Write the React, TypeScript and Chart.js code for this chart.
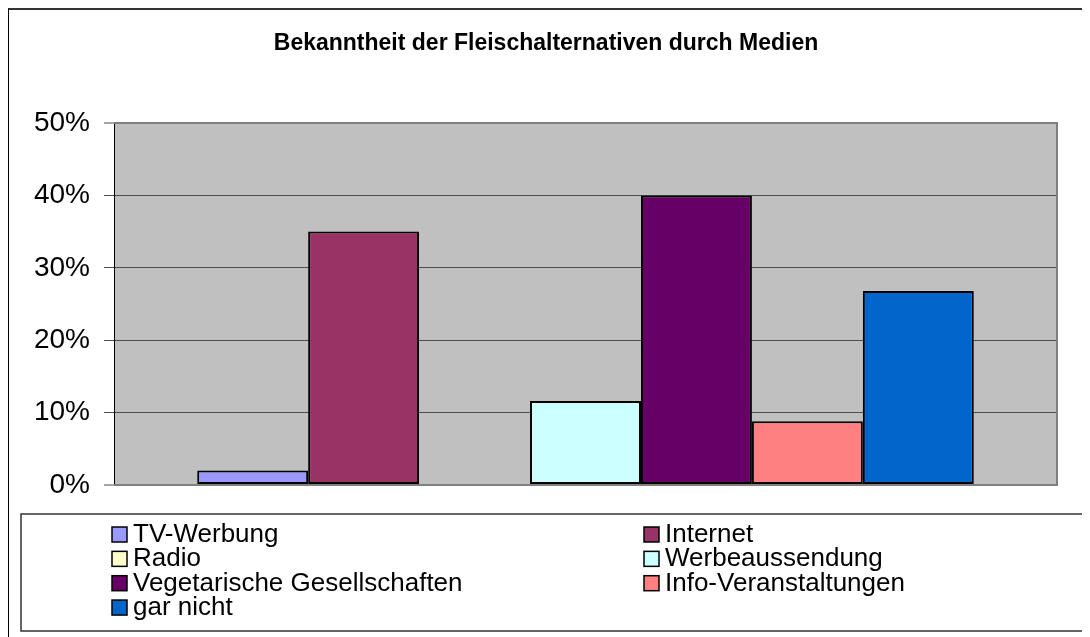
import { useEffect, useRef } from 'react';
import { Chart, registerables } from 'chart.js';

Chart.register(...registerables);

const titleText = 'Bekanntheit der Fleischalternativen durch Medien';
const categories = [''];
const seriesNames = [
  'TV-Werbung',
  'Internet',
  'Radio',
  'Werbeaussendung',
  'Vegetarische Gesellschaften',
  'Info-Veranstaltungen',
  'gar nicht',
];
const seriesValues = [2, 35, 0, 11.6, 40, 8.8, 26.8];
const seriesColors = ['#9999FF', '#993366', '#FFFFCC', '#CCFFFF', '#660066', '#FF8080', '#0066CC'];
const yTickMin = 0;
const yTickMax = 50;
const yTickStep = 10;

const FONT = '"Liberation Sans", Arial, Helvetica, sans-serif';

const decorPlugin = {
  id: 'decor',
  beforeDraw(chart: any) {
    const { ctx, chartArea: a } = chart;
    ctx.save();
    ctx.fillStyle = '#C0C0C0';
    ctx.fillRect(a.left, a.top, a.right - a.left, a.bottom - a.top);
    ctx.restore();
  },
  beforeDatasetsDraw(chart: any) {
    const { ctx, chartArea: a } = chart;
    ctx.save();
    ctx.strokeStyle = '#808080';
    ctx.lineWidth = 2;
    ctx.beginPath();
    ctx.moveTo(a.left, a.top);
    ctx.lineTo(a.right, a.top);
    ctx.lineTo(a.right, a.bottom);
    ctx.lineTo(a.left, a.bottom);
    ctx.stroke();
    ctx.restore();
  },
  afterDraw(chart: any) {
    const { ctx } = chart;
    ctx.save();
    // title
    ctx.fillStyle = '#000';
    ctx.font = `bold 23px ${FONT}`;
    ctx.textAlign = 'center';
    ctx.textBaseline = 'middle';
    ctx.fillText(titleText, 537, 34);

    // legend box
    const lx = 12, ly = 504, lw = 1062, lh = 117;
    ctx.strokeStyle = '#333';
    ctx.lineWidth = 1.5;
    ctx.strokeRect(lx, ly, lw, lh);

    ctx.font = `26px ${FONT}`;
    ctx.textAlign = 'left';
    ctx.textBaseline = 'alphabetic';
    chart.data.datasets.forEach((ds: any, i: number) => {
      const col = i % 2;
      const row = Math.floor(i / 2);
      const bx = col === 0 ? 103 : 635;
      const base = 532 + row * 24.35;
      ctx.fillStyle = ds.backgroundColor;
      ctx.fillRect(bx, base - 15, 15, 15);
      ctx.strokeStyle = '#000';
      ctx.lineWidth = 1.5;
      ctx.strokeRect(bx, base - 15, 15, 15);
      ctx.fillStyle = '#000';
      ctx.fillText(ds.label, bx + 21, base);
    });
    ctx.restore();
  },
};

export default function App() {
  const ref = useRef<HTMLCanvasElement | null>(null);

  useEffect(() => {
    if (!ref.current) return;
    const chart = new Chart(ref.current, {
      type: 'bar',
      data: {
        labels: categories,
        datasets: seriesNames.map((name, i) => ({
          label: name,
          data: [seriesValues[i]],
          backgroundColor: seriesColors[i],
          borderColor: '#000',
          borderWidth: 2,
          borderSkipped: false,
          categoryPercentage: 7 / 8.5,
          barPercentage: 1,
        })),
      },
      options: {
        animation: false,
        responsive: true,
        maintainAspectRatio: false,
        layout: { padding: { left: 0, right: 33, top: 113, bottom: 152 } },
        plugins: {
          legend: { display: false },
          title: { display: false },
          tooltip: { enabled: false },
        },
        scales: {
          x: { display: false },
          y: {
            min: yTickMin,
            max: yTickMax,
            ticks: {
              stepSize: yTickStep,
              padding: 14,
              color: '#000',
              font: { family: FONT, size: 28 },
              callback: (v: any) => `${v}%`,
            },
            grid: {
              color: (c: any) => (c.tick && (c.tick.value === yTickMin || c.tick.value === yTickMax) ? '#808080' : '#4d4d4d'),
              lineWidth: (c: any) => (c.tick && (c.tick.value === yTickMin || c.tick.value === yTickMax) ? 2 : 1),
              tickColor: '#4d4d4d',
              tickWidth: 1,
              tickLength: 10,
              drawTicks: true,
            },
            border: { display: true, color: '#000', width: 1 },
            afterFit: (scale: any) => {
              scale.width = 105;
            },
          },
        },
      },
      plugins: [decorPlugin],
    });
    return () => chart.destroy();
  }, []);

  return (
    <div
      style={{
        position: 'relative',
        width: 1081,
        height: 627,
        borderLeft: '1px solid #000',
        borderTop: '2px solid #333',
      }}
    >
      <canvas ref={ref} />
    </div>
  );
}
